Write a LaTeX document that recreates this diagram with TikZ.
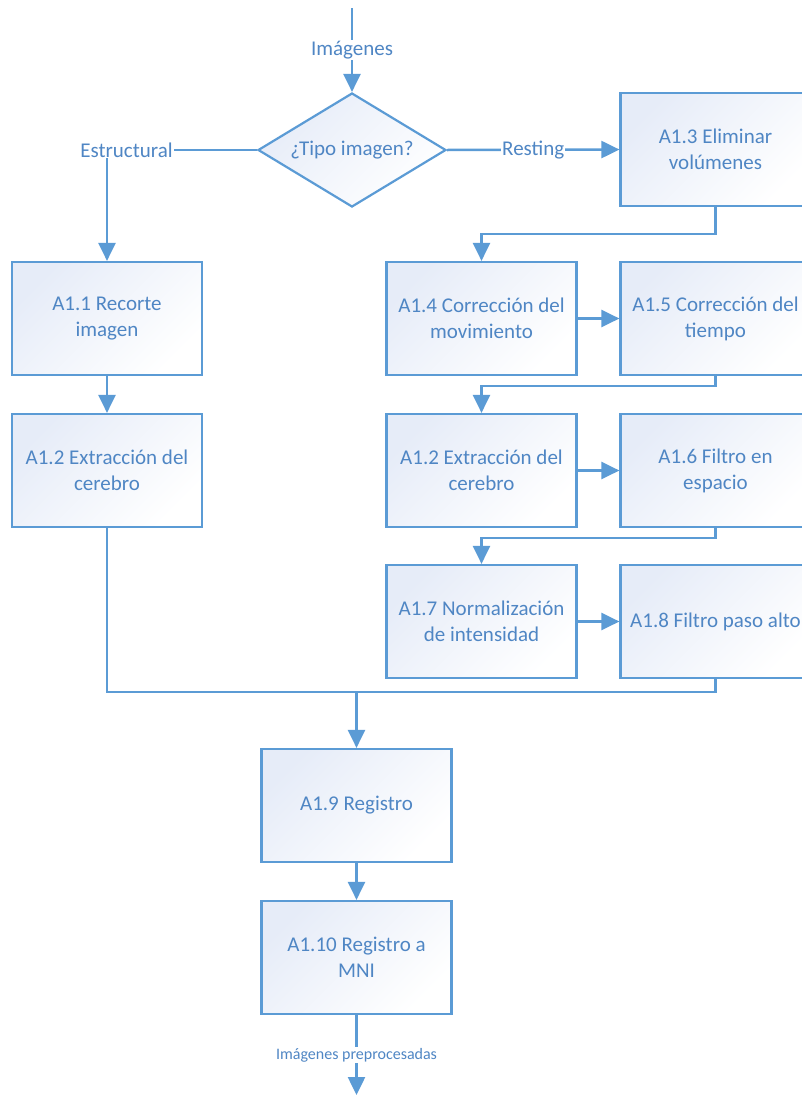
\documentclass[tikz,border=0pt]{standalone}
\usepackage{fontspec}
\setmainfont{Carlito}
\usetikzlibrary{shapes.geometric,arrows.meta}
\definecolor{flowline}{RGB}{91,155,213}
\definecolor{flowtext}{RGB}{79,134,196}
\definecolor{flowfill}{RGB}{230,236,248}
\tikzset{
  stepbox/.style={draw=flowline, line width=2.2pt, minimum width=190pt, minimum height=113pt,
    inner sep=0pt, align=center, text=flowtext, font=\fontsize{21}{26}\selectfont,
    top color=flowfill, bottom color=white, shading angle=45},
  decision/.style={diamond, draw=flowline, line width=2.2pt, minimum width=188pt, minimum height=114pt,
    aspect=1.65, inner sep=0pt, align=center, text=flowtext, font=\fontsize{21}{26}\selectfont,
    top color=flowfill, bottom color=white, shading angle=45},
  link/.style={draw=flowline, line width=2.5pt},
  arr/.style={link, -{Triangle[width=17pt,length=18pt]}},
  lbl/.style={fill=white, text=flowtext, inner sep=1pt, font=\fontsize{21}{26}\selectfont},
  smalllbl/.style={fill=white, text=flowtext, inner sep=1pt, font=\fontsize{16}{19}\selectfont},
}
\begin{document}
\begin{tikzpicture}[x=1pt, y=-1pt]
\useasboundingbox (0,0) rectangle (802,1095);

% decision
\node[decision] (d) at (352,150) {¿Tipo imagen?};

% structural branch
\node[stepbox] (a11) at (107,318.5) {A1.1 Recorte\\imagen};
\node[stepbox] (a12l) at (107,470.5) {A1.2 Extracción del\\cerebro};

% resting branch
\node[stepbox] (a13) at (715.5,149.5) {A1.3 Eliminar\\volúmenes};
\node[stepbox] (a14) at (481.5,318.5) {A1.4 Corrección del\\movimiento};
\node[stepbox] (a15) at (715.5,318.5) {A1.5 Corrección del\\tiempo};
\node[stepbox] (a12r) at (481.5,470.5) {A1.2 Extracción del\\cerebro};
\node[stepbox] (a16) at (715.5,470.5) {A1.6 Filtro en\\espacio};
\node[stepbox] (a17) at (481.5,621.5) {A1.7 Normalización\\de intensidad};
\node[stepbox] (a18) at (715.5,621.5) {A1.8 Filtro paso alto};

% common tail
\node[stepbox] (a19) at (356.5,805.5) {A1.9 Registro};
\node[stepbox] (a110) at (356.5,957.5) {A1.10 Registro a\\MNI};

\coordinate (in) at (352,8);
\coordinate (join) at (356.5,692);
\coordinate (out) at (356.5,1095);

% connectors
\draw[arr] (in) -- (d.north) node[lbl, midway] {Imágenes};
\draw[arr] (d.west) -| (a11.north) node[lbl, pos=0.435] {Estructural};
\draw[arr] (d.east) -- (a13.west) node[lbl, pos=0.5] {Resting};
\draw[arr] (a11.south) -- (a12l.north);

\draw[arr] (a13.south) -- ++(0,27) -| (a14.north);
\draw[arr] (a14.east) -- (a15.west);
\draw[arr] (a15.south) -- ++(0,10) -| (a12r.north);
\draw[arr] (a12r.east) -- (a16.west);
\draw[arr] (a16.south) -- ++(0,10) -| (a17.north);
\draw[arr] (a17.east) -- (a18.west);

\draw[link] (a12l.south) |- (join);
\draw[link] (a18.south) |- (join);
\draw[arr] (join) -- (a19.north);
\draw[arr] (a19.south) -- (a110.north);
\draw[arr] (a110.south) -- (out) node[smalllbl, midway] {Imágenes preprocesadas};
\end{tikzpicture}
\end{document}
